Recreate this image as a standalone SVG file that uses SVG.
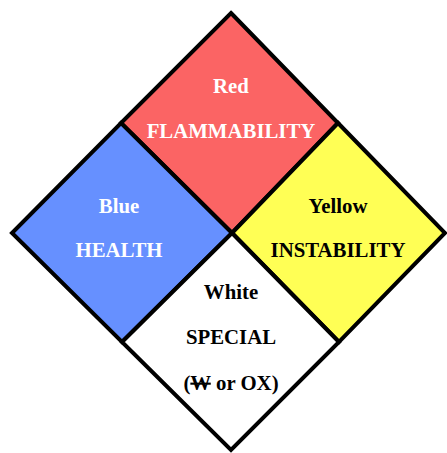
<svg xmlns="http://www.w3.org/2000/svg" width="447" height="453" viewBox="0 0 447 453">
  <style>
    .quad { stroke: #000; stroke-width: 4; stroke-linejoin: miter; }
    .lbl { font-family: "Liberation Serif", "Times New Roman", serif; font-weight: bold; font-size: 20.8px; text-anchor: middle; }
    .light { fill: #fff; }
    .dark { fill: #000; }
  </style>
  <rect width="447" height="453" fill="#fff"/>

  <!-- Flammability (top) -->
  <g id="flammability">
    <polygon class="quad" fill="#FB6464" points="231,13 338,123 232,233 121,123"/>
    <text class="lbl light" x="231" y="93">Red</text>
    <text class="lbl light" x="231" y="138">FLAMMABILITY</text>
  </g>

  <!-- Health (left) -->
  <g id="health">
    <polygon class="quad" fill="#6690FF" points="121,123 232,233 122,342 12,233"/>
    <text class="lbl light" x="119" y="213">Blue</text>
    <text class="lbl light" x="119" y="257">HEALTH</text>
  </g>

  <!-- Instability (right) -->
  <g id="instability">
    <polygon class="quad" fill="#FFFF55" points="338,123 445,233 339,342 232,233"/>
    <text class="lbl dark" x="338" y="213">Yellow</text>
    <text class="lbl dark" x="338" y="257">INSTABILITY</text>
  </g>

  <!-- Special (bottom) -->
  <g id="special">
    <polygon class="quad" fill="#fff" points="232,233 339,342 231,450 122,342"/>
    <text class="lbl dark" x="231" y="299">White</text>
    <text class="lbl dark" x="231" y="344">SPECIAL</text>
    <text class="lbl dark" x="231" y="390">(<tspan text-decoration="line-through">W</tspan> or OX)</text>
  </g>
</svg>
